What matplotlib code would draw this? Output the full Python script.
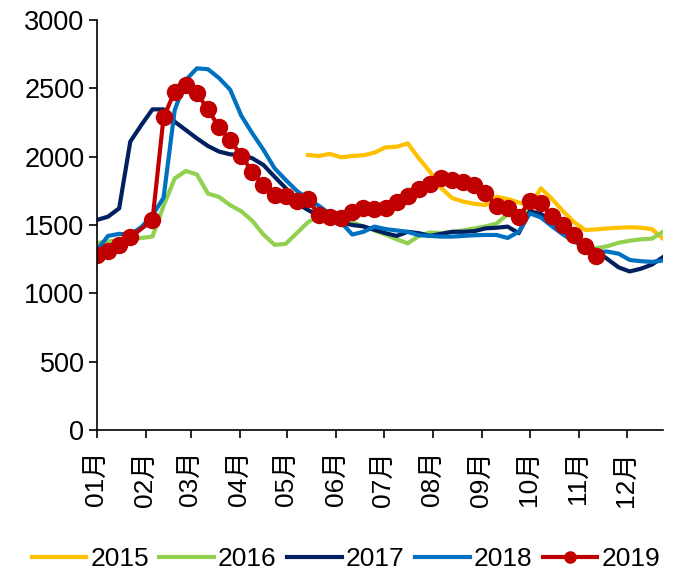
import matplotlib
matplotlib.use("Agg")
import matplotlib.pyplot as plt
import numpy as np

plt.rcParams['font.family'] = ['Liberation Sans', 'Noto Sans CJK SC']

# ===== データ（週次、第0週=1月第1週）=====
month_labels = ["01月", "02月", "03月", "04月", "05月", "06月",
                "07月", "08月", "09月", "10月", "11月", "12月"]
month_start_days = [0, 31, 59, 90, 120, 151, 181, 212, 243, 273, 304, 334]

weeks_2015 = list(range(19, 52))
v2015 = [2012, 2005, 2020, 1995, 2005, 2010, 2029, 2068, 2073, 2097,
         1988, 1890, 1771, 1697, 1671, 1655, 1646, 1707, 1690, 1665,
         1640, 1768, 1690, 1600, 1520, 1463, 1468, 1475, 1480, 1483,
         1480, 1470, 1400]

weeks_2016 = list(range(0, 52))
v2016 = [1368, 1380, 1390, 1395, 1405, 1415, 1640, 1840, 1895, 1870,
         1730, 1705, 1645, 1600, 1530, 1430, 1355, 1362, 1440, 1520,
         1565, 1595, 1570, 1520, 1490, 1460, 1430, 1395, 1366, 1420,
         1445, 1440, 1450, 1460, 1475, 1490, 1510, 1580, 1600, 1610,
         1560, 1510, 1460, 1400, 1340, 1330, 1345, 1370, 1385, 1395,
         1400, 1450]

weeks_2017 = list(range(0, 52))
v2017 = [1537, 1561, 1622, 2110, 2232, 2346, 2346, 2256, 2195, 2134,
         2078, 2037, 2017, 2012, 1988, 1939, 1853, 1770, 1660, 1610,
         1570, 1545, 1520, 1500, 1490, 1465, 1440, 1420, 1450, 1440,
         1420, 1435, 1450, 1450, 1455, 1475, 1480, 1488, 1440, 1600,
         1580, 1530, 1470, 1410, 1360, 1310, 1250, 1190, 1160, 1180,
         1210, 1265]

weeks_2018 = list(range(0, 52))
v2018 = [1317, 1420, 1435, 1430, 1485, 1570, 1700, 2340, 2560, 2646,
         2640, 2575, 2490, 2300, 2170, 2050, 1915, 1830, 1750, 1690,
         1640, 1580, 1520, 1430, 1450, 1488, 1470, 1460, 1450, 1425,
         1420, 1415, 1415, 1420, 1425, 1427, 1427, 1405, 1450, 1585,
         1555, 1490, 1430, 1380, 1330, 1305, 1305, 1290, 1244, 1235,
         1230, 1240]

weeks_2019 = [0, 1, 2, 3] + list(range(5, 46))
v2019 = [1280, 1310, 1350, 1410, 1535, 2288, 2476, 2524, 2463, 2346,
         2215, 2122, 2005, 1890, 1789, 1716, 1710, 1678, 1688, 1573,
         1561, 1549, 1597, 1622, 1615, 1622, 1671, 1712, 1761, 1800,
         1842, 1829, 1817, 1793, 1732, 1639, 1622, 1556, 1678, 1658,
         1566, 1500, 1427, 1346, 1273]

# ===== グラフ =====
fig = plt.figure(figsize=(6.81, 5.76), dpi=100)
ax = fig.add_axes([0.1424, 0.2535, 0.8312, 0.7118])

lw = 3.0
ax.plot(weeks_2015, v2015, color="#FFC000", lw=lw, label="2015")
ax.plot(weeks_2016, v2016, color="#92D050", lw=lw, label="2016")
ax.plot(weeks_2017, v2017, color="#002060", lw=lw, label="2017")
ax.plot(weeks_2018, v2018, color="#0070C0", lw=lw, label="2018")
ax.plot(weeks_2019, v2019, color="#C00000", lw=lw, marker="o",
        markersize=11.5, label="2019")

ax.set_xlim(0, 51)
ax.set_ylim(0, 3000)
ax.set_yticks(np.arange(0, 3001, 500))
ax.set_xticks([d / 7 for d in month_start_days])
ax.set_xticklabels(month_labels, rotation=90)

for s in ["top", "right"]:
    ax.spines[s].set_visible(False)
for s in ["left", "bottom"]:
    ax.spines[s].set_linewidth(1.2)
ax.tick_params(axis="y", labelsize=19.5, length=6, width=1.2, pad=3)
ax.tick_params(axis="x", labelsize=19, length=6, width=1.2, pad=9)

leg = fig.legend(loc="lower center", bbox_to_anchor=(0.508, -0.033), ncol=5,
                 frameon=False, fontsize=19, handlelength=2.07,
                 handletextpad=0.15, columnspacing=0.4, markerscale=0.7)

fig.savefig("out.png", dpi=100)
